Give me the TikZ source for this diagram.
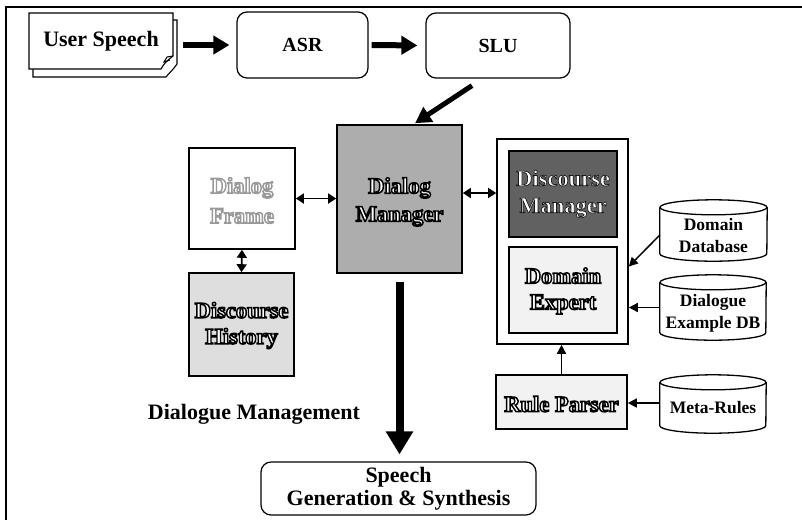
\documentclass[tikz,border=0pt]{standalone}
\usepackage{fontspec}
\setmainfont{Liberation Serif}
\newfontfamily\ofont{Liberation Serif}[BoldFeatures={FakeBold=6.5}]
\newfontfamily\ofontthin{Liberation Serif}[BoldFeatures={FakeBold=3}]
\usetikzlibrary{arrows.meta,calc}
% outlined letters: white fill, stroke in given grey level
\newcommand{\olt}[2][0]{\special{pdf:bcolor [1] [#1]}#2\special{pdf:ecolor}}
\definecolor{dmgray}{gray}{0.68}
\definecolor{dhgray}{gray}{0.87}
\definecolor{dkgray}{gray}{0.38}
\definecolor{ltgray}{gray}{0.95}
\begin{document}
\begin{tikzpicture}[x=1pt,y=-1pt,
  otxt/.style={align=center, inner sep=0pt, font=\fontsize{22.5}{#1}\selectfont\ofont\bfseries},
  otxt/.default=27,
  rbox/.style={draw, line width=1.2pt, rounded corners=10pt, align=center, inner sep=0pt, font=\bfseries\fontsize{20}{23}\selectfont},
  sbox/.style={draw, line width=1.6pt, inner sep=0pt},
  dbtext/.style={align=center, inner sep=0pt, font=\bfseries\fontsize{17.5}{22}\selectfont},
  bigarrow/.style={line width=6pt, -{Triangle[length=16pt,width=18pt]}},
  dbl/.style={line width=1.8pt, {Triangle[length=8pt,width=10pt]}-{Triangle[length=8pt,width=10pt]}},
  thin/.style={line width=1.5pt, -{Triangle[length=9pt,width=9pt]}},
  cyl/.style={draw, line width=1.3pt, fill=white}]
\useasboundingbox (0,0) rectangle (802,523);
% frame
\draw[line width=1.5pt] (802,7) -- (6,7) -- (6,520);
% user speech document
\draw[line width=1.1pt, fill=white] (33,20) -- (177,20) -- (177,64) .. controls (173,70) and (170,72) .. (166,77) -- (33,77) -- cycle;
\draw[line width=1.1pt, fill=white] (29,13) -- (173,13) -- (173,56) .. controls (168,60) and (164,63) .. (161,69) -- (29,69) -- cycle;
\draw[line width=1pt] (173,56) -- (167,57) -- (164,62) -- (170,60);
\node[align=center, inner sep=0pt, font=\bfseries\fontsize{22}{26}\selectfont, minimum width=144pt, minimum height=56pt] (US) at (101,41) {User Speech};
% top row
\node[rbox, minimum width=131pt, minimum height=66pt] (ASR) at (302.5,45) {ASR};
\node[rbox, minimum width=144pt, minimum height=65pt] (SLU) at (498,45.5) {SLU};
\draw[bigarrow, shorten <=10pt, shorten >=7pt] (US.east |- ASR.west) -- (ASR.west);
\draw[bigarrow, shorten <=3pt, shorten >=8pt] (ASR.east) -- (SLU.west);
% dialog management
\node[sbox, fill=dmgray, minimum width=125pt, minimum height=148pt] (DM) at (399.5,199) {};
\node[otxt=28] (DMt) at ($(DM.center)+(0,3)$) {\olt{Dialog}\\\olt{Manager}};
\node[sbox, fill=white, minimum width=106pt, minimum height=101pt] (DF) at (242,198.5) {};
\node[otxt=30] (DFt) at ($(DF.center)+(0,2)$) {\olt[0.6]{Dialog}\\\olt[0.6]{Frame}};
\node[sbox, fill=dhgray, minimum width=105pt, minimum height=103pt] (DH) at (241.5,324.5) {};
\node[otxt=26] (DHt) at ($(DH.center)+(0,1)$) {\olt{Discourse}\\\olt{History}};
\draw[dbl] (DF.east) -- (DF.east -| DM.west);
\draw[dbl] (DF.south) -- (DH.north);
\node[align=center, inner sep=0pt, font=\bfseries\fontsize{22}{26}\selectfont] (DML) at (254,414) {Dialogue Management};
% SLU -> DM
\coordinate (slutail) at ($(SLU.south)+(-26,7)$);
\coordinate (dmhead) at ($(DM.north)+(15.5,-1)$);
\draw[line width=5pt, -{Triangle[length=16pt,width=17pt]}] (slutail) -- (dmhead);
% right container
\node[sbox, fill=white, minimum width=131pt, minimum height=205pt] (CT) at (562.5,241.5) {};
\node[sbox, fill=dkgray, minimum width=108pt, minimum height=86pt] (DiscM) at (563,194) {};
\node[otxt=27, font=\fontsize{22.5}{27}\selectfont\ofontthin\bfseries] (DiscMt) at (DiscM.center) {\olt[0.1]{Discourse}\\\olt[0.1]{Manager}};
\node[sbox, fill=ltgray, minimum width=108pt, minimum height=86pt] (DomE) at (563,290) {};
\node[otxt=26] (DomEt) at ($(DomE.center)+(0,1)$) {\olt{Domain}\\\olt{Expert}};
\coordinate (dmr) at ($(DM.east)+(0,-6)$);
\draw[dbl] (dmr) -- (dmr -| CT.west);
\node[sbox, fill=ltgray, minimum width=131pt, minimum height=54pt] (RP) at (561.5,402) {};
\node[otxt=26] (RPt) at ($(RP.center)+(0,2)$) {\olt{Rule Parser}};
% databases
\node[minimum width=107pt, minimum height=61pt, inner sep=0pt] (DDB) at (713.5,230.5) {};
\node[minimum width=106pt, minimum height=65pt, inner sep=0pt] (DEDB) at (713,307.5) {};
\node[minimum width=106pt, minimum height=58pt, inner sep=0pt] (MR) at (713,404) {};
\foreach \n/\rx in {DDB/53.5, DEDB/53, MR/53}{
  \draw[cyl] ($(\n.north west)+(0,7.5)$) -- ($(\n.south west)+(0,-7.5)$)
     arc[start angle=180, end angle=360, x radius=\rx pt, y radius=7.5pt]
     -- ($(\n.north east)+(0,7.5)$);
  \draw[cyl] ($(\n.north)+(0,7.5)$) ellipse[x radius=\rx pt, y radius=7.5pt];
}
\node[dbtext] (DDBt) at ($(DDB.center)+(0,5.5)$) {Domain\\Database};
\node[dbtext] (DEDBt) at ($(DEDB.center)+(0,6)$) {Dialogue\\Example DB};
\node[dbtext] (MRt) at ($(MR.center)+(0,4)$) {Meta-Rules};
\coordinate (ddbw) at ($(DDB.west)+(0,4.5)$);
\coordinate (cte) at ($(CT.east)+(0,25)$);
\draw[thin] (ddbw) -- (cte);
\draw[thin] (DEDB.west) -- (DEDB.west -| CT.east);
\coordinate (mrw) at ($(MR.west)+(0,-1)$);
\draw[thin] (mrw) -- (mrw -| RP.east);
\draw[thin] (RP.north) -- (RP.north |- CT.south);
% speech generation
\node[rbox, minimum width=275pt, minimum height=53pt, font=\bfseries\fontsize{22}{23.5}\selectfont] (SG) at (398.5,488.5) {Speech\\Generation \& Synthesis};
\draw[line width=8pt, -{Triangle[length=23pt,width=26pt]}, shorten <=8pt, shorten >=7pt] (DM.south) -- (SG.north -| DM.south);
\end{tikzpicture}
\end{document}
